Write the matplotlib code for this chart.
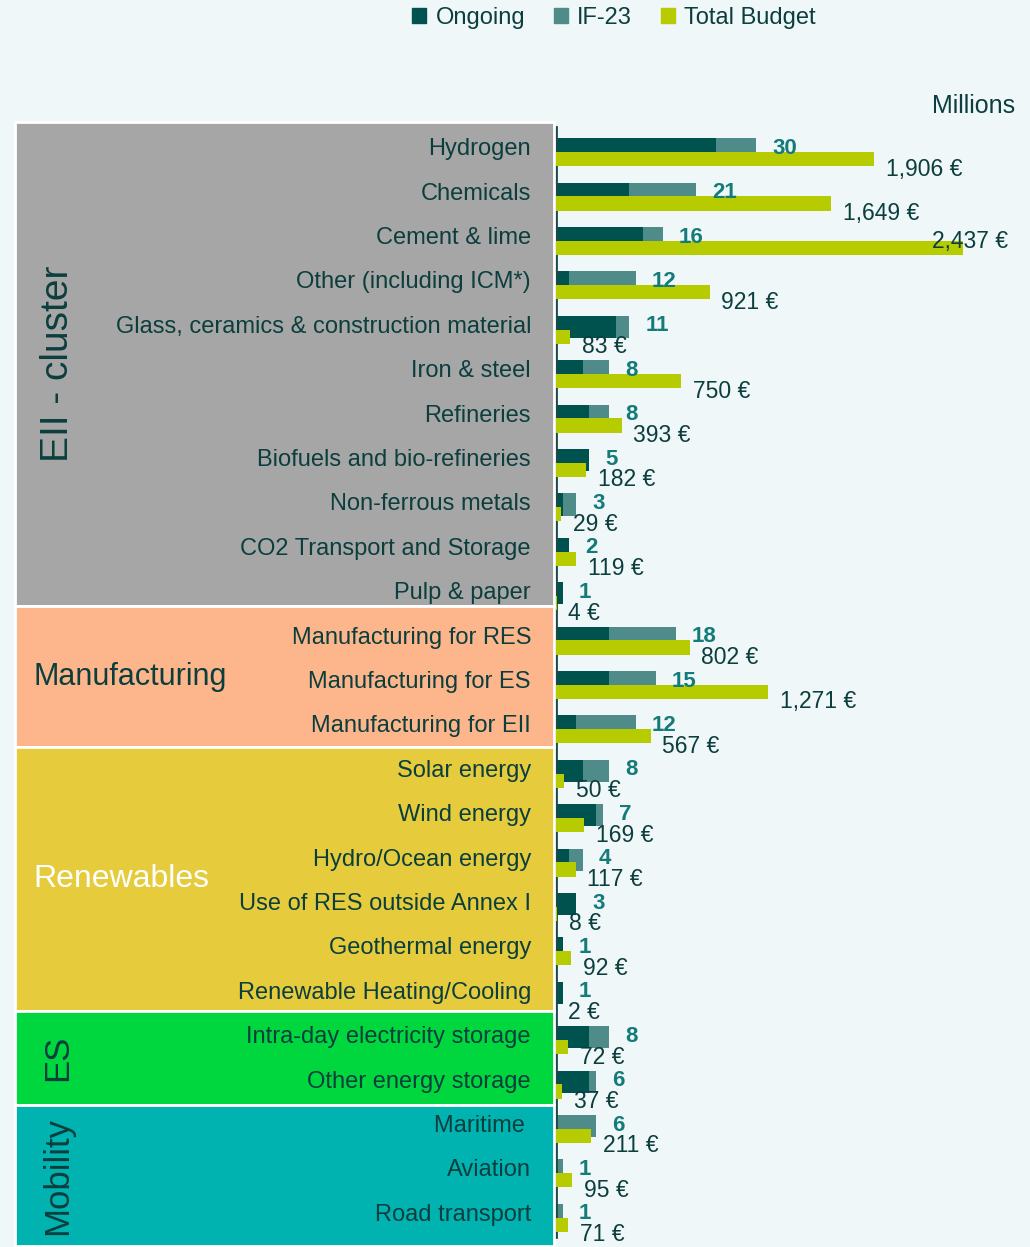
import matplotlib
matplotlib.use("Agg")
import matplotlib.pyplot as plt
import matplotlib.transforms as mtransforms
from matplotlib.patches import Rectangle, Patch

# data
categories = [
    "Hydrogen", "Chemicals", "Cement & lime", "Other (including ICM*)",
    "Glass, ceramics & construction material", "Iron & steel", "Refineries",
    "Biofuels and bio-refineries", "Non-ferrous metals", "CO2 Transport and Storage",
    "Pulp & paper",
    "Manufacturing for RES", "Manufacturing for ES", "Manufacturing for EII",
    "Solar energy", "Wind energy", "Hydro/Ocean energy", "Use of RES outside Annex I",
    "Geothermal energy", "Renewable Heating/Cooling",
    "Intra-day electricity storage", "Other energy storage",
    "Maritime ", "Aviation", "Road transport",
]
ongoing = [24, 11, 13, 2, 9, 4, 5, 5, 1, 2, 1,
           8, 8, 3,
           4, 6, 2, 3, 1, 1,
           5, 5,
           0, 0, 0]
if23 = [6, 10, 3, 10, 2, 4, 3, 0, 2, 0, 0,
        10, 7, 9,
        4, 1, 2, 0, 0, 0,
        3, 1,
        6, 1, 1]
budget = [1906, 1649, 2437, 921, 83, 750, 393, 182, 29, 119, 4,
          802, 1271, 567,
          50, 169, 117, 8, 92, 2,
          72, 37,
          211, 95, 71]
groups = ["EII - cluster", "Manufacturing", "Renewables", "ES", "Mobility"]
group_sizes = [11, 3, 6, 2, 3]

# colours / styles
C_ONGOING = "#00524f"
C_IF23 = "#4f8c89"
C_BUDGET = "#b6cc00"
C_TEXT = "#0b3e3d"
C_COUNT = "#137b78"
BG = "#eff7f9"
group_colors = ["#a6a6a6", "#fdb68b", "#e6cc3c", "#00d73f", "#00b3b0"]
group_text = [C_TEXT, C_TEXT, "white", C_TEXT, C_TEXT]
group_rot = [90, 0, 0, 90, 90]
group_fs = [28, 22, 23, 25, 25]
# panel edges in row units (layout, not data)
panel_edges = [-0.61, 10.29, 13.47, 19.40, 21.53, 24.7]

plt.rcParams["font.family"] = ["Liberation Sans", "DejaVu Sans"]

W, H = 1030, 1247
fig = plt.figure(figsize=(W / 100, H / 100), dpi=100, facecolor=BG)

ax_left = 556 / W
ax = fig.add_axes([ax_left, 10 / H, 1 - ax_left, 1110 / H])
ax.patch.set_alpha(0)
ax2 = ax.twiny()
ax2.patch.set_alpha(0)

n = len(categories)
rows = list(range(n))
count_max = 474 / 6.667
budget_max = 474 / 0.16685

total = [o + f for o, f in zip(ongoing, if23)]
ax.barh(rows, ongoing, height=0.5, color=C_ONGOING, label="Ongoing")
ax.barh(rows, if23, left=ongoing, height=0.5, color=C_IF23, label="IF-23")
ax2.barh([r + 0.225 for r in rows], budget, height=0.32, color=C_BUDGET,
         label="Total Budget")

ax.set_xlim(0, count_max)
ax2.set_xlim(0, budget_max)
ax.set_ylim(n - 0.5, -0.5)
ax2.set_ylim(n - 0.5, -0.5)

for a in (ax, ax2):
    for s in ["top", "right", "bottom", "left"]:
        a.spines[s].set_visible(False)
    a.set_xticks([])
    a.set_yticks([])
ax.spines["left"].set_visible(True)
ax.spines["left"].set_color("#1b4a49")
ax.spines["left"].set_linewidth(2)

# count labels (drawn on the top axes so they sit above the budget bars)
for r, t in zip(rows, total):
    ax2.text(t + 2.4, r - 0.02, str(t), transform=ax.transData, color=C_COUNT,
             fontsize=16, fontweight="bold", va="center", ha="left")

# budget labels
for r, b in zip(rows, budget):
    lab = f"{b:,} €"
    if b + 480 > budget_max:
        ax2.text(budget_max * 0.953, r + 0.08, lab, color=C_TEXT, fontsize=16.5,
                 va="center", ha="right")
    else:
        ax2.text(b + 70, r + 0.45, lab, color=C_TEXT, fontsize=16.5,
                 va="center", ha="left")

# category panels on the left
trans = mtransforms.blended_transform_factory(fig.transFigure, ax.transData)
x0, x1 = 15 / W, 554 / W
start = 0
for gi, g in enumerate(groups):
    top, bot = panel_edges[gi], panel_edges[gi + 1]
    fig.patches.append(Rectangle((x0, top), x1 - x0, bot - top, transform=trans,
                                 facecolor=group_colors[gi], edgecolor="white",
                                 linewidth=2, zorder=0))
    mid = (top + bot) / 2
    if group_rot[gi] == 90:
        fig.text(58 / W, mid, g, transform=trans, rotation=90, ha="center",
                 va="center", fontsize=group_fs[gi], color=group_text[gi])
    else:
        fig.text(33 / W, mid, g, transform=trans, ha="left", va="center",
                 fontsize=group_fs[gi], color=group_text[gi])

for r, c in zip(rows, categories):
    fig.text(531 / W, r, c, transform=trans, ha="right", va="center",
             fontsize=17, color=C_TEXT)

# legend and unit
handles = [Patch(color=C_ONGOING, label="Ongoing"),
           Patch(color=C_IF23, label="IF-23"),
           Patch(color=C_BUDGET, label="Total Budget")]
fig.legend(handles=handles, loc="center", bbox_to_anchor=(614 / W, 1 - 18 / H),
           ncol=3, frameon=False, fontsize=17, handlelength=0.6,
           handleheight=0.6, handletextpad=0.4, columnspacing=1.2,
           labelcolor=C_TEXT)
fig.text(1015 / W, 1 - 106 / H, "Millions", ha="right", va="center",
         fontsize=18, color=C_TEXT)

fig.savefig("out.png", dpi=100, facecolor=BG)
